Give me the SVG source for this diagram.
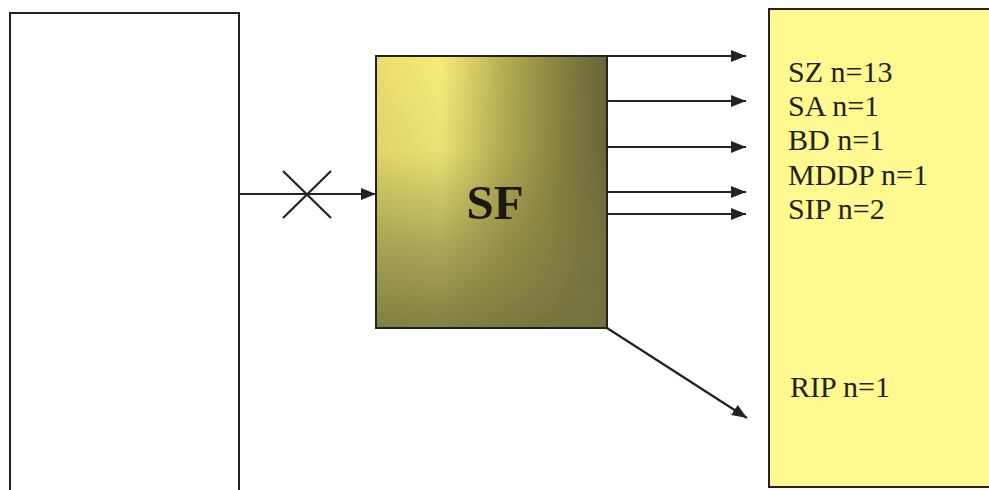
<svg xmlns="http://www.w3.org/2000/svg" width="989" height="490" viewBox="0 0 989 490">
<style>
.box{stroke:#222;stroke-width:2}
.conn{stroke:#222;stroke-width:2.2;fill:none}
.lbl{font-family:"Liberation Serif","Times New Roman",serif;font-size:30px;fill:#222}
.sf{font-family:"Liberation Serif","Times New Roman",serif;font-size:49px;font-weight:bold;fill:#1a1a10}
</style>
<defs>
<linearGradient id="gh" x1="0" y1="0" x2="1" y2="0">
<stop offset="0" stop-color="#e9de6c"/>
<stop offset="0.28" stop-color="#f6ec7a"/>
<stop offset="0.55" stop-color="#b7ae52"/>
<stop offset="0.8" stop-color="#85813f"/>
<stop offset="1" stop-color="#666538"/>
</linearGradient>
<linearGradient id="gv" x1="0" y1="0" x2="0" y2="1">
<stop offset="0" stop-color="#7b7a40" stop-opacity="0"/>
<stop offset="0.35" stop-color="#7b7a40" stop-opacity="0.1"/>
<stop offset="0.7" stop-color="#7b7a40" stop-opacity="0.6"/>
<stop offset="1" stop-color="#74733d" stop-opacity="0.9"/>
</linearGradient>
<marker id="ah" viewBox="0 0 15 12" refX="15" refY="6" markerWidth="15" markerHeight="12" markerUnits="userSpaceOnUse" orient="auto">
<path d="M0,0 L15,6 L0,12 z" fill="#222"/>
</marker>
</defs>
<g id="node-left">
<rect class="box" x="10" y="13" width="229" height="482" fill="#fff"/>
</g>
<g id="node-sf">
<rect x="376" y="56" width="231" height="272" fill="url(#gh)"/>
<rect x="376" y="56" width="231" height="272" fill="url(#gv)"/>
<rect class="box" x="376" y="56" width="231" height="272" fill="none"/>
<text class="sf" x="495" y="219" text-anchor="middle">SF</text>
</g>
<g id="node-right">
<rect class="box" x="769" y="9" width="225" height="478" fill="#fff98f"/>
<text class="lbl" x="788" y="82">SZ n=13</text>
<text class="lbl" x="788" y="116">SA n=1</text>
<text class="lbl" x="788" y="150">BD n=1</text>
<text class="lbl" x="788" y="185">MDDP n=1</text>
<text class="lbl" x="788" y="219">SIP n=2</text>
<text class="lbl" x="790" y="397">RIP n=1</text>
</g>
<g id="connectors">
<line class="conn" x1="239" y1="194" x2="376" y2="194" marker-end="url(#ah)"/>
<line class="conn" x1="283" y1="171" x2="331" y2="218" stroke-width="1.5"/>
<line class="conn" x1="331" y1="171" x2="283" y2="218" stroke-width="1.5"/>
<line class="conn" x1="607" y1="56" x2="746" y2="56" marker-end="url(#ah)"/>
<line class="conn" x1="607" y1="101" x2="746" y2="101" marker-end="url(#ah)"/>
<line class="conn" x1="607" y1="147" x2="746" y2="147" marker-end="url(#ah)"/>
<line class="conn" x1="607" y1="192" x2="746" y2="192" marker-end="url(#ah)"/>
<line class="conn" x1="607" y1="214" x2="746" y2="214" marker-end="url(#ah)"/>
<line class="conn" x1="607" y1="328" x2="747" y2="418" marker-end="url(#ah)"/>
</g>
</svg>
